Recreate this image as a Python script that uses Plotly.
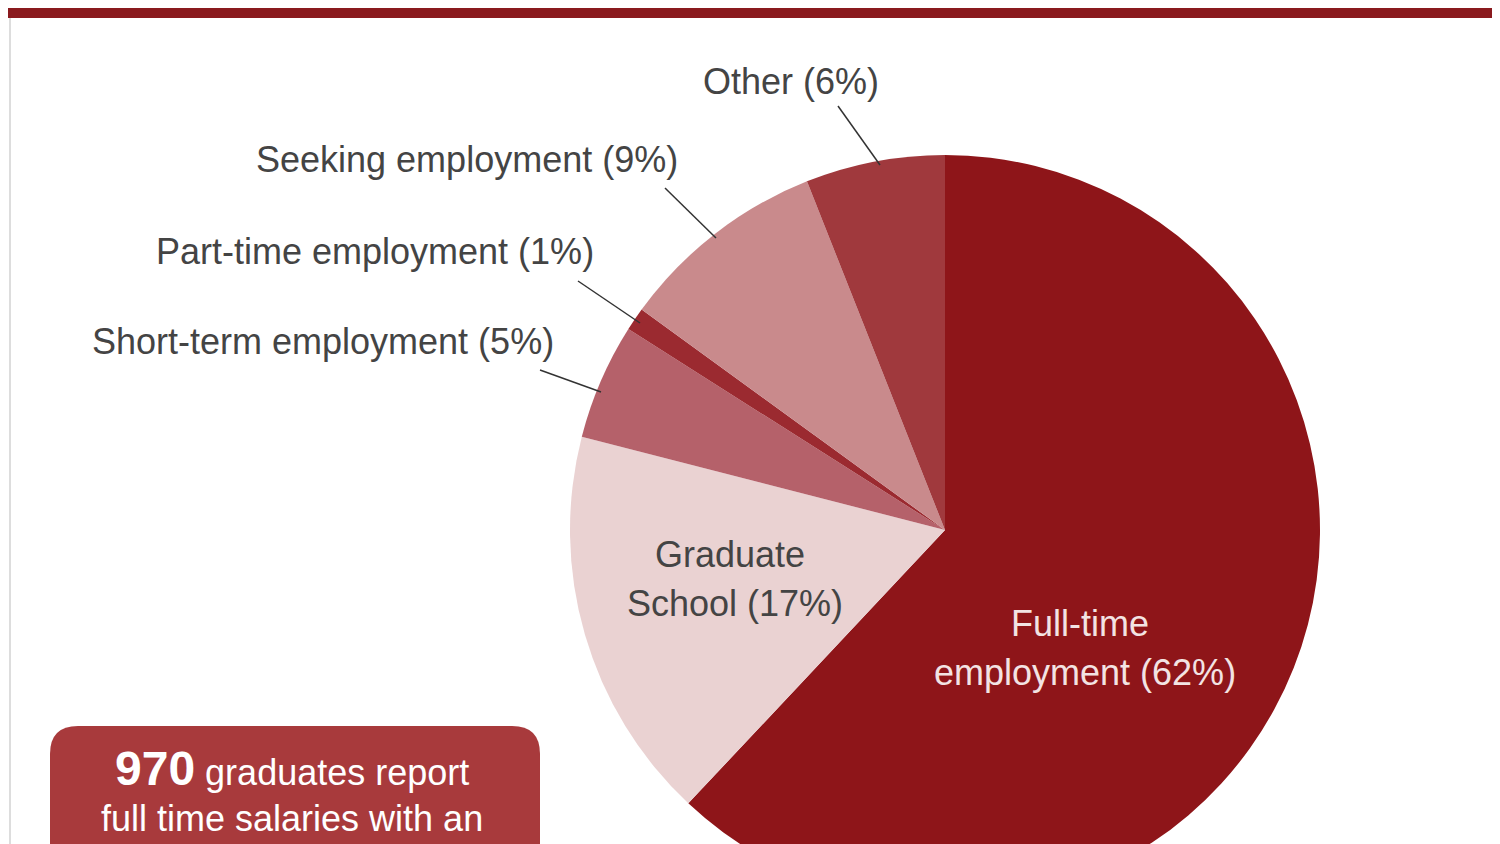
import plotly.graph_objects as go

labels = ["Full-time employment", "Graduate School", "Short-term employment",
          "Part-time employment", "Seeking employment", "Other"]
values = [62, 17, 5, 1, 9, 6]
colors = ["#8E1519", "#EAD2D2", "#B5616A", "#9B2A30", "#C98A8C", "#A0393D"]

W, H = 1500, 900
FONT = "Liberation Sans Narrow, Liberation Sans, sans-serif"


def px(x, y):
    return x / W, 1 - y / H


cx, cy, r = 937, 522, 375
fig = go.Figure(go.Pie(
    labels=labels, values=values, sort=False, direction="clockwise",
    rotation=0, textinfo="none", hoverinfo="label+percent",
    marker=dict(colors=colors, line=dict(width=0)),
    domain=dict(x=[(cx - r) / W, (cx + r) / W], y=[1 - (cy + r) / H, 1 - (cy - r) / H]),
    showlegend=False,
))

shapes = [
    dict(type="rect", xref="paper", yref="paper", x0=0, x1=1, y0=px(0, 10)[1], y1=1,
         fillcolor="#8A1A1E", line_width=0),
    dict(type="line", xref="paper", yref="paper", x0=px(2, 0)[0], x1=px(2, 0)[0], y0=0, y1=px(0, 10)[1],
         line=dict(color="#dddddd", width=2)),
    dict(type="line", xref="paper", yref="paper", x0=px(1497, 0)[0], x1=px(1497, 0)[0], y0=0, y1=px(0, 10)[1],
         line=dict(color="#dddddd", width=2)),
]
leaders = [((830, 98), (872, 157)), ((657, 180), (708, 230)),
           ((570, 273), (632, 315)), ((532, 362), (593, 384))]
for (x0, y0), (x1, y1) in leaders:
    a, b = px(x0, y0)
    c, d = px(x1, y1)
    shapes.append(dict(type="line", xref="paper", yref="paper", x0=a, y0=b, x1=c, y1=d,
                       line=dict(color="#333333", width=1.5)))

# rounded box bottom-left
bx0, by0, bx1, by1, rr = 42, 718, 532, 900, 28
shapes.append(dict(type="path", xref="x", yref="y",
                   path=f"M {bx0},{by1} L {bx0},{by0+rr} Q {bx0},{by0} {bx0+rr},{by0} "
                        f"L {bx1-rr},{by0} Q {bx1},{by0} {bx1},{by0+rr} L {bx1},{by1} Z",
                   fillcolor="#A83A3C", line_width=0))

ann = []
def text(x, y, s, anchor="center", color="#444444", size=36):
    a, b = px(x, y)
    ann.append(dict(xref="paper", yref="paper", x=a, y=b, text=s, showarrow=False,
                    xanchor=anchor, yanchor="middle", font=dict(family=FONT, size=size, color=color)))

text(783, 73, "Other (6%)")
text(672, 152, "Seeking employment (9%)", "right")
text(588, 244, "Part-time employment (1%)", "right")
text(548, 333, "Short-term employment (5%)", "right")
text(722, 546, "Graduate")
text(727, 595, "School (17%)")
text(1072, 615, "Full-time", color="#F3E3E3")
text(1077, 664, "employment (62%)", color="#F3E3E3")
text(284, 760, "<b style='font-size:48px'>970</b> graduates report", color="white")
text(284, 810, "full time salaries with an", color="white")

fig.update_layout(
    width=W, height=H, margin=dict(l=0, r=0, t=0, b=0),
    paper_bgcolor="white", plot_bgcolor="rgba(0,0,0,0)",
    shapes=shapes, annotations=ann,
    xaxis=dict(range=[0, W], visible=False, fixedrange=True),
    yaxis=dict(range=[H, 0], visible=False, fixedrange=True),
)
fig.write_html("out.html")
